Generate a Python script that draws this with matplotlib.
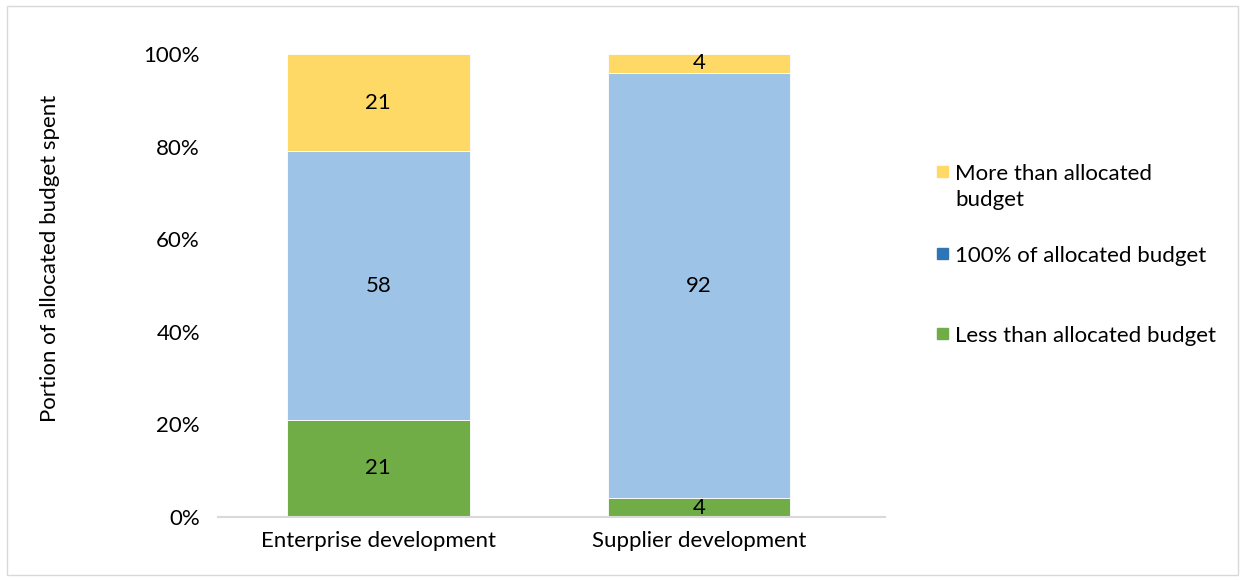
import matplotlib.pyplot as plt
from matplotlib.patches import Rectangle

categories = ["Enterprise development", "Supplier development"]
less = [21, 4]
exact = [58, 92]
more = [21, 4]
legend_labels = ["More than allocated\nbudget", "100% of allocated budget", "Less than allocated budget"]
yticks = [0, 20, 40, 60, 80, 100]

green = "#70AD47"
light_blue = "#9DC3E6"
blue = "#2E75B6"
yellow = "#FFD966"
legend_colors = [yellow, blue, green]

plt.rcParams['font.family'] = ['Lato', 'DejaVu Sans']
fs = 16

W, H = 1244, 581
fig = plt.figure(figsize=(W / 100, H / 100), dpi=100)
fig.patches.append(Rectangle((7 / W, 6 / H), 1231 / W, 569 / H, transform=fig.transFigure,
                             fill=False, edgecolor="#D9D9D9", linewidth=1))
ax = fig.add_axes([218 / W, 64 / H, (885 - 218) / W, (517 - 54) / H])

x = list(range(len(categories)))
w = 0.57
bottom2 = [a + b for a, b in zip(less, exact)]
ax.bar(x, less, w, color=green, edgecolor="white", linewidth=0.6)
ax.bar(x, exact, w, bottom=less, color=light_blue, edgecolor="white", linewidth=0.6)
ax.bar(x, more, w, bottom=bottom2, color=yellow, edgecolor="white", linewidth=0.6)

for i in x:
    ax.text(i, less[i] / 2, str(less[i]), ha="center", va="center", fontsize=fs)
    ax.text(i, less[i] + exact[i] / 2, str(exact[i]), ha="center", va="center", fontsize=fs)
    ax.text(i, bottom2[i] + more[i] / 2, str(more[i]), ha="center", va="center", fontsize=fs)

ax.set_xlim(-0.5, 1.58)
ax.set_ylim(0, 100)
ax.set_yticks(yticks)
ax.set_yticklabels([f"{t}%" for t in yticks], fontsize=fs)
ax.set_xticks(x)
ax.set_xticklabels(categories, fontsize=fs)
ax.tick_params(length=0, pad=10)
ax.tick_params(axis="y", pad=13)
for s in ["top", "right", "left"]:
    ax.spines[s].set_visible(False)
ax.spines["bottom"].set_color("#D9D9D9")
ax.spines["bottom"].set_linewidth(1.5)
ax.set_ylabel("Portion of allocated budget spent", fontsize=fs)
ax.yaxis.set_label_coords((60 - 218) / (885 - 218), (517 - 258) / (517 - 54))

# legend drawn by hand so the handle sits on the first text line
for label, color, yc in zip(legend_labels, legend_colors, [172, 254, 334]):
    fig.patches.append(Rectangle((937 / W, 1 - (yc + 5) / H), 11 / W, 11 / H,
                                 transform=fig.transFigure, color=color))
    fig.text(955 / W, 1 - (yc - 8) / H, label, fontsize=fs, va="top", ha="left",
             linespacing=1.4)

fig.savefig("out.png", dpi=100)
